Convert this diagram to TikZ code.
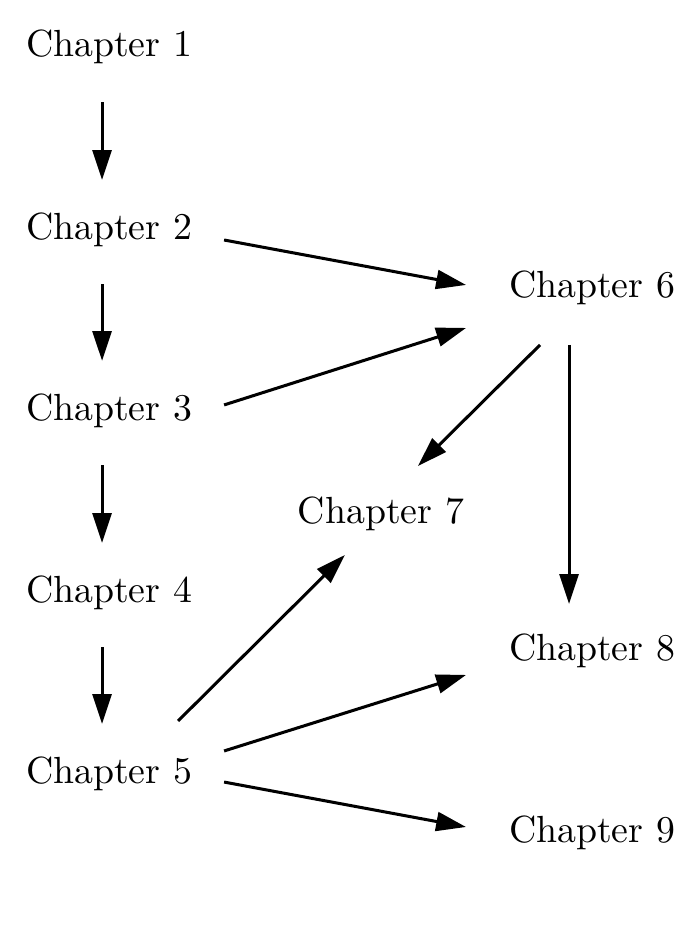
\documentclass[tikz,border=0pt]{standalone}
\usepackage{tikz}
\usetikzlibrary{arrows.meta}

\begin{document}
\begin{tikzpicture}[>={Triangle[length=7.9pt,width=5pt]}, scale=1.0,
  chap/.style={anchor=base}, link/.style={->,line width=0.8pt}]
\useasboundingbox (0,0) rectangle (6.501,-8.835);
\node[chap] (c1) at (1.014,-0.530) {Chapter 1};
\node[chap] (c2) at (1.014,-2.223) {Chapter 2};
\node[chap] (c3) at (1.014,-3.906) {Chapter 3};
\node[chap] (c4) at (1.014,-5.599) {Chapter 4};
\node[chap] (c5) at (1.014,-7.282) {Chapter 5};
\node[chap] (c6) at (5.506,-2.771) {Chapter 6};
\node[chap] (c7) at (3.543,-4.873) {Chapter 7};
\node[chap] (c8) at (5.506,-6.147) {Chapter 8};
\node[chap] (c9) at (5.506,-7.831) {Chapter 9};
\draw[link] ([shift={(-0.065,-0.42)}]c1.base) -- ([shift={(-0.065,0.55)}]c2.base);
\draw[link] ([shift={(-0.065,-0.42)}]c2.base) -- ([shift={(-0.065,0.55)}]c3.base);
\draw[link] ([shift={(-0.065,-0.42)}]c3.base) -- ([shift={(-0.065,0.55)}]c4.base);
\draw[link] ([shift={(-0.065,-0.42)}]c4.base) -- ([shift={(-0.065,0.55)}]c5.base);
\draw[link] ([shift={(1.070,-0.009)}]c2.base) -- ([shift={(-1.172,0.121)}]c6.base);
\draw[link] ([shift={(1.070,0.140)}]c3.base) -- ([shift={(-1.172,-0.279)}]c6.base);
\draw[link] ([shift={(-0.484,-0.437)}]c6.base) -- ([shift={(0.344,0.539)}]c7.base);
\draw[link] ([shift={(-0.214,-0.437)}]c6.base) -- ([shift={(-0.214,0.530)}]c8.base);
\draw[link] ([shift={(0.642,0.577)}]c5.base) -- ([shift={(-0.335,-0.288)}]c7.base);
\draw[link] ([shift={(1.070,0.298)}]c5.base) -- ([shift={(-1.172,-0.130)}]c8.base);
\draw[link] ([shift={(1.070,0.009)}]c5.base) -- ([shift={(-1.172,0.140)}]c9.base);
\end{tikzpicture}
\end{document}
